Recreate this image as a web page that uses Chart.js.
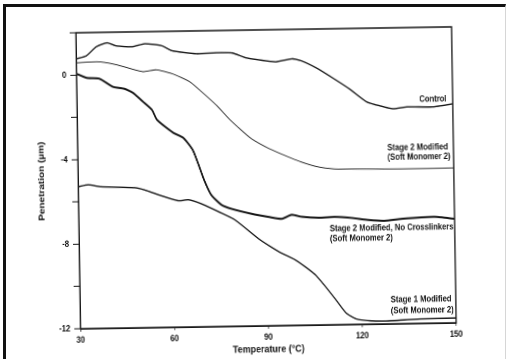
<!DOCTYPE html>
<html>
<head>
<meta charset="utf-8">
<title>Penetration vs Temperature</title>
<script src="https://cdn.jsdelivr.net/npm/chart.js@4.4.0/dist/chart.umd.min.js"></script>
<style>
  html, body { margin: 0; padding: 0; background: #fff; overflow: hidden; }
  #marco {
    position: absolute; left: 3px; top: 4px; width: 503px; height: 360px;
    border-top: 3px solid #111; border-left: 3px solid #111; border-right: 1px solid #d6d6d6;
    box-sizing: border-box;
  }
  /* el grafico va un poco girado, como pegado en la hoja */
  #lienzo { position: absolute; left: 0; top: 0; width: 509px; height: 359px; transform: rotate(-0.9deg); }
  /* letra estrecha: el canvas se dibuja mas ancho y se comprime en horizontal */
  #grafico { position: absolute; left: 0; top: 0; transform-origin: 0 0; transform: scaleX(0.85); }
</style>
</head>
<body>
<div id="marco"></div>
<div id="lienzo"><canvas id="grafico" width="599" height="359"></canvas></div>
<script>
// Temperatura (°C) y penetracion (µm) de cada muestra
const tempControl = [30, 33.2, 36.4, 39.9, 42.8, 47.9, 52.0, 57.4, 60.6, 68.3, 74.7, 79.8, 84.2, 90.6, 93.8, 98.9, 101.8, 106.6, 111.7, 117.1, 122.5, 126.7, 130.8, 135.3, 143.6, 150];
const penControl  = [0.77, 0.90, 1.32, 1.50, 1.35, 1.30, 1.43, 1.32, 1.08, 0.92, 0.95, 0.93, 0.69, 0.53, 0.48, 0.61, 0.51, 0.16, -0.32, -0.86, -1.48, -1.68, -1.83, -1.75, -1.77, -1.64];

const tempStage2 = [30, 37.3, 42.8, 51.1, 55.5, 60.6, 66.1, 70.2, 74.7, 78.8, 85.2, 90.6, 95.7, 101.2, 106.6, 111.7, 117.1, 122.5, 133.1, 150];
const penStage2  = [0.58, 0.61, 0.46, 0.11, 0.19, -0.01, -0.40, -0.93, -1.56, -2.23, -3.10, -3.58, -3.93, -4.27, -4.52, -4.63, -4.65, -4.66, -4.68, -4.67];

const tempNoCross = [30, 33.2, 37.3, 41.5, 45.3, 47.9, 51.1, 53.9, 55.5, 60.6, 63.8, 66.7, 68.3, 70.2, 72.4, 75.6, 78.8, 85.2, 90.6, 94.8, 98.0, 101.2, 106.6, 111.7, 117.1, 122.5, 127.6, 133.1, 143.6, 150];
const penNoCross  = [0.06, -0.14, -0.19, -0.58, -0.69, -0.88, -1.31, -1.70, -2.18, -2.80, -3.05, -3.62, -4.24, -5.05, -5.76, -6.24, -6.44, -6.69, -6.85, -6.95, -6.77, -6.87, -6.93, -6.90, -6.96, -7.07, -7.12, -7.04, -6.97, -7.08];

const tempStage1 = [30, 33.2, 37.3, 47.9, 51.1, 56.5, 61.9, 65.1, 69.2, 74.7, 79.8, 87.8, 93.8, 98.9, 102.1, 105.3, 108.5, 111.7, 114.9, 118.1, 122.5, 127.6, 138.5, 150];
const penStage1  = [-5.28, -5.20, -5.30, -5.37, -5.48, -5.77, -6.02, -5.98, -6.18, -6.57, -6.96, -7.93, -8.51, -8.90, -9.24, -9.63, -10.20, -10.82, -11.45, -11.74, -11.84, -11.86, -11.79, -11.77];

// Rotulos de cada curva, anclados en coordenadas de datos
const rotulos = [
  { texto: "Control", t: 148, p: -1.40, alinear: "right" },
  { texto: "Stage 2 Modified", t: 128.9, p: -3.67, alinear: "left" },
  { texto: "(Soft Monomer 2)", t: 128.9, p: -4.12, alinear: "left" },
  { texto: "Stage 2 Modified, No Crosslinkers", t: 110.1, p: -7.46, alinear: "left" },
  { texto: "(Soft Monomer 2)", t: 110.1, p: -7.93, alinear: "left" },
  { texto: "Stage 1 Modified", t: 129.2, p: -10.87, alinear: "left" },
  { texto: "(Soft Monomer 2)", t: 129.2, p: -11.39, alinear: "left" }
];

const fuente = "Arial, 'Liberation Sans', sans-serif";
const tinta = "#161616";

function puntos(xs, ys) {
  return xs.map((x, i) => ({ x: x, y: ys[i] }));
}

function serie(nombre, xs, ys, grosor) {
  return {
    label: nombre,
    data: puntos(xs, ys),
    borderColor: tinta,
    borderWidth: grosor,
    pointRadius: 0,
    fill: false,
    tension: 0.2
  };
}

// Marco completo del area del grafico y textos de las curvas
const marcoYRotulos = {
  id: "marcoYRotulos",
  afterDatasetsDraw(chart) {
    const { ctx, chartArea: a, scales } = chart;
    ctx.save();
    ctx.strokeStyle = tinta;
    ctx.lineWidth = 1.5;
    ctx.strokeRect(a.left, a.top, a.right - a.left, a.bottom - a.top);

    ctx.fillStyle = tinta;
    ctx.font = "bold 9px " + fuente;
    ctx.textBaseline = "middle";
    rotulos.forEach(r => {
      ctx.textAlign = r.alinear;
      ctx.fillText(r.texto, scales.x.getPixelForValue(r.t), scales.y.getPixelForValue(r.p));
    });
    ctx.restore();
  }
};

new Chart(document.getElementById("grafico"), {
  type: "line",
  data: {
    datasets: [
      serie("Control", tempControl, penControl, 1.4),
      serie("Stage 2 Modified (Soft Monomer 2)", tempStage2, penStage2, 0.9),
      serie("Stage 2 Modified, No Crosslinkers (Soft Monomer 2)", tempNoCross, penNoCross, 2),
      serie("Stage 1 Modified (Soft Monomer 2)", tempStage1, penStage1, 1.4)
    ]
  },
  options: {
    responsive: false,
    devicePixelRatio: 2,
    animation: false,
    layout: { padding: { left: 33, top: 30, right: 65, bottom: 3 } },
    plugins: { legend: { display: false }, tooltip: { enabled: false } },
    scales: {
      x: {
        type: "linear",
        min: 30,
        max: 150,
        afterFit: s => { s.height = 30; },
        ticks: { stepSize: 30, color: tinta, padding: 3, maxRotation: 0, font: { family: fuente, size: 9, weight: "bold" } },
        grid: { drawOnChartArea: false, drawTicks: true, tickLength: 3, color: tinta },
        border: { display: true, color: tinta, width: 1.5 },
        title: { display: true, text: "Temperature (°C)", color: tinta, padding: { top: 0, bottom: 0 }, font: { family: fuente, size: 10.5, weight: "bold" } }
      },
      y: {
        min: -12,
        max: 2,
        afterFit: s => { s.width = 59; },
        ticks: {
          stepSize: 2,
          color: tinta,
          padding: 5,
          font: { family: fuente, size: 9, weight: "bold" },
          callback: v => (v % 4 === 0 ? String(v) : "")
        },
        grid: { drawOnChartArea: false, drawTicks: true, tickLength: 7, color: tinta },
        border: { display: true, color: tinta, width: 1.5 },
        title: { display: true, text: "Penetration (µm)", color: tinta, padding: { top: 10, bottom: 0 }, font: { family: fuente, size: 10, weight: "bold" } }
      }
    }
  },
  plugins: [marcoYRotulos]
});
</script>
</body>
</html>
